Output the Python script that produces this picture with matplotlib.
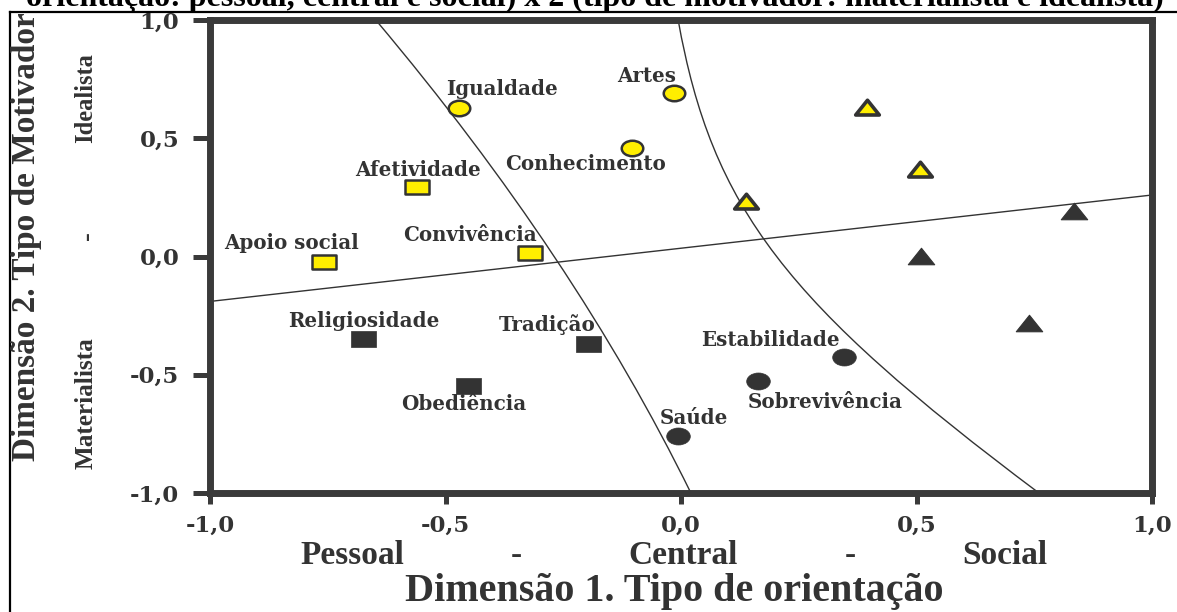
import matplotlib
matplotlib.use("Agg")
import matplotlib.pyplot as plt
import numpy as np
from matplotlib.path import Path
from matplotlib.patches import PathPatch
from matplotlib.markers import MarkerStyle
from matplotlib.lines import Line2D

# ---------------- data ----------------
ideal_sq_labels = ["Apoio social", "Afetividade", "Convivência"]
ideal_sq_x = [-0.757, -0.561, -0.321]
ideal_sq_y = [-0.023, 0.292, 0.015]

ideal_ci_labels = ["Igualdade", "Artes", "Conhecimento"]
ideal_ci_x = [-0.471, -0.015, -0.104]
ideal_ci_y = [0.628, 0.691, 0.459]

ideal_tr_x = [0.138, 0.395, 0.507]
ideal_tr_y = [0.230, 0.628, 0.366]

mat_tr_x = [0.834, 0.510, 0.739]
mat_tr_y = [0.188, -0.002, -0.285]

mat_sq_labels = ["Religiosidade", "Tradição", "Obediência"]
mat_sq_x = [-0.675, -0.197, -0.452]
mat_sq_y = [-0.349, -0.370, -0.548]

mat_ci_labels = ["Estabilidade", "Sobrevivência", "Saúde"]
mat_ci_x = [0.346, 0.163, -0.006]
mat_ci_y = [-0.425, -0.526, -0.759]

# separating lines (straight line ends; Bezier control points of the two curves)
hline_x = [-1.0, 1.0]
hline_y = [-0.19, 0.26]
left_curve_x = [-0.648, -0.225, 0.021]
left_curve_y = [1.0, 0.0, -1.0]
right_curve_x = [-0.006, 0.066, 0.224, 0.760]
right_curve_y = [1.0, 0.2, -0.2, -1.0]

tick_values = [-1.0, -0.5, 0.0, 0.5, 1.0]
tick_labels = ["-1,0", "-0,5", "0,0", "0,5", "1,0"]

# ---------------- layout (pixel offsets of labels: dx, baseline dy up) ----------------
label_offsets = {
    "Apoio social": (-33, 13), "Afetividade": (1, 11), "Convivência": (-60, 12),
    "Igualdade": (43, 13), "Artes": (-27, 11), "Conhecimento": (-47, -22),
    "Religiosidade": (1, 12), "Tradição": (-41, 13), "Obediência": (-4, -24),
    "Estabilidade": (-74, 11), "Sobrevivência": (67, -27), "Saúde": (16, 12),
}

W, H = 1177, 612
fig = plt.figure(figsize=(W / 100, H / 100), dpi=100)
ax = fig.add_axes([210 / W, 1 - 493 / H, (1152 - 210) / W, (493 - 20) / H])
ax.set_xlim(-1, 1)
ax.set_ylim(-1, 1)

DARK = "#333333"
YEL = "#FFEE00"

# custom markers (stretched shapes)
rect = Path([(-1, -0.63), (1, -0.63), (1, 0.63), (-1, 0.63), (-1, -0.63)],
            [Path.MOVETO, Path.LINETO, Path.LINETO, Path.LINETO, Path.CLOSEPOLY])
uc = Path.unit_circle()
ell = Path(uc.vertices * np.array([1.0, 0.72]), uc.codes)
tri = Path([(-1, -0.55), (1, -0.55), (0, 0.70), (-1, -0.55)],
           [Path.MOVETO, Path.LINETO, Path.LINETO, Path.CLOSEPOLY])

m_rect = MarkerStyle(rect, joinstyle="miter")
m_ell = MarkerStyle(ell)
m_tri = MarkerStyle(tri, joinstyle="miter")

# lines
ax.plot(hline_x, hline_y, color=DARK, lw=1.0, zorder=1)
lp = Path(np.column_stack([left_curve_x, left_curve_y]),
          [Path.MOVETO, Path.CURVE3, Path.CURVE3])
ax.add_patch(PathPatch(lp, facecolor="none", edgecolor=DARK, lw=1.0, zorder=1))
rp = Path(np.column_stack([right_curve_x, right_curve_y]),
          [Path.MOVETO, Path.CURVE4, Path.CURVE4, Path.CURVE4])
ax.add_patch(PathPatch(rp, facecolor="none", edgecolor=DARK, lw=1.0, zorder=1))

# markers
ax.plot(ideal_sq_x, ideal_sq_y, ls="none", marker=m_rect, ms=17, mfc=YEL, mec=DARK, mew=1.8, zorder=3)
ax.plot(ideal_ci_x, ideal_ci_y, ls="none", marker=m_ell, ms=15.5, mfc=YEL, mec=DARK, mew=1.8, zorder=3)
ax.plot(ideal_tr_x, ideal_tr_y, ls="none", marker=m_tri, ms=17, mfc=YEL, mec=DARK, mew=2.6, zorder=3)
ax.plot(mat_tr_x, mat_tr_y, ls="none", marker=m_tri, ms=19, mfc=DARK, mec=DARK, mew=0.8, zorder=3)
ax.plot(mat_sq_x, mat_sq_y, ls="none", marker=m_rect, ms=18, mfc=DARK, mec=DARK, mew=0.5, zorder=3)
ax.plot(mat_ci_x, mat_ci_y, ls="none", marker=m_ell, ms=17, mfc=DARK, mec=DARK, mew=0.5, zorder=3)

lab_font = dict(family="DejaVu Serif", weight="bold", size=14.3, color=DARK)
for labels, xs, ys in [(ideal_sq_labels, ideal_sq_x, ideal_sq_y),
                       (ideal_ci_labels, ideal_ci_x, ideal_ci_y),
                       (mat_sq_labels, mat_sq_x, mat_sq_y),
                       (mat_ci_labels, mat_ci_x, mat_ci_y)]:
    for lab, x, y in zip(labels, xs, ys):
        dx, dy = label_offsets[lab]
        ax.annotate(lab, (x, y), xytext=(dx, dy), textcoords="offset pixels",
                    ha="center", va="baseline", zorder=4, **lab_font)

# spines / ticks
for s in ax.spines.values():
    s.set_linewidth(5.0)
    s.set_color("#3a3a3a")
    s.set_zorder(5)
ax.set_xticks(tick_values)
ax.set_yticks(tick_values)
ax.set_xticklabels(tick_labels)
ax.set_yticklabels(tick_labels)
ax.tick_params(axis="y", direction="out", length=12, width=3.6, color="#3a3a3a", pad=10,
               labelsize=16.5, labelcolor=DARK)
ax.tick_params(axis="x", direction="out", length=8, width=3.6, color="#3a3a3a", pad=8,
               labelsize=16.5, labelcolor=DARK)
for t in ax.get_xticklabels() + ax.get_yticklabels():
    t.set_fontfamily("DejaVu Serif")
    t.set_fontweight("bold")

# figure texts
serif = "Liberation Serif"


def ftext(px, py, s, **kw):
    return fig.text(px / W, 1 - py / H, s, **kw)


texts_fit = []
title = ftext(595, 6, "orientação: pessoal, central e social) x 2 (tipo de motivador: materialista e idealista)",
              ha="center", va="baseline", family=serif, weight="bold", size=21, color="black")
texts_fit.append((title, 1135, "w"))
d1 = ftext(674, 601, "Dimensão 1. Tipo de orientação", ha="center", va="baseline",
           family=serif, weight="bold", size=26, color=DARK)
texts_fit.append((d1, 540, "w"))
for px, s in [(352, "Pessoal"), (516, "-"), (683, "Central"), (850, "-"), (1005, "Social")]:
    ftext(px, 564, s, ha="center", va="baseline", family=serif, weight="bold", size=24, color=DARK)

d2 = ftext(27, 237, "Dimensão 2. Tipo de Motivador", ha="center", va="center", rotation=90,
           family=serif, weight="bold", size=24, color=DARK)
texts_fit.append((d2, 449, "h"))
ide = ftext(86, 98, "Idealista", ha="center", va="center", rotation=90,
            family=serif, weight="bold", size=19, color=DARK)
texts_fit.append((ide, 90, "h"))
mat = ftext(86, 403, "Materialista", ha="center", va="center", rotation=90,
            family=serif, weight="bold", size=19, color=DARK)
texts_fit.append((mat, 132, "h"))
ftext(87, 236, "-", ha="center", va="center", rotation=90, family=serif, weight="bold",
      size=19, color=DARK)

fig.canvas.draw()
r = fig.canvas.get_renderer()
for t, target, d in texts_fit:
    bb = t.get_window_extent(r)
    cur = bb.width if d == "w" else bb.height
    t.set_fontsize(t.get_fontsize() * target / cur)

# outer frame (left and top lines)
fig.add_artist(Line2D([10 / W, 10 / W], [0, 1 - 12 / H], transform=fig.transFigure,
                      color="black", lw=1.6))
fig.add_artist(Line2D([10 / W, 1], [1 - 12 / H, 1 - 12 / H], transform=fig.transFigure,
                      color="black", lw=1.6))

fig.savefig("out.png", dpi=100)
